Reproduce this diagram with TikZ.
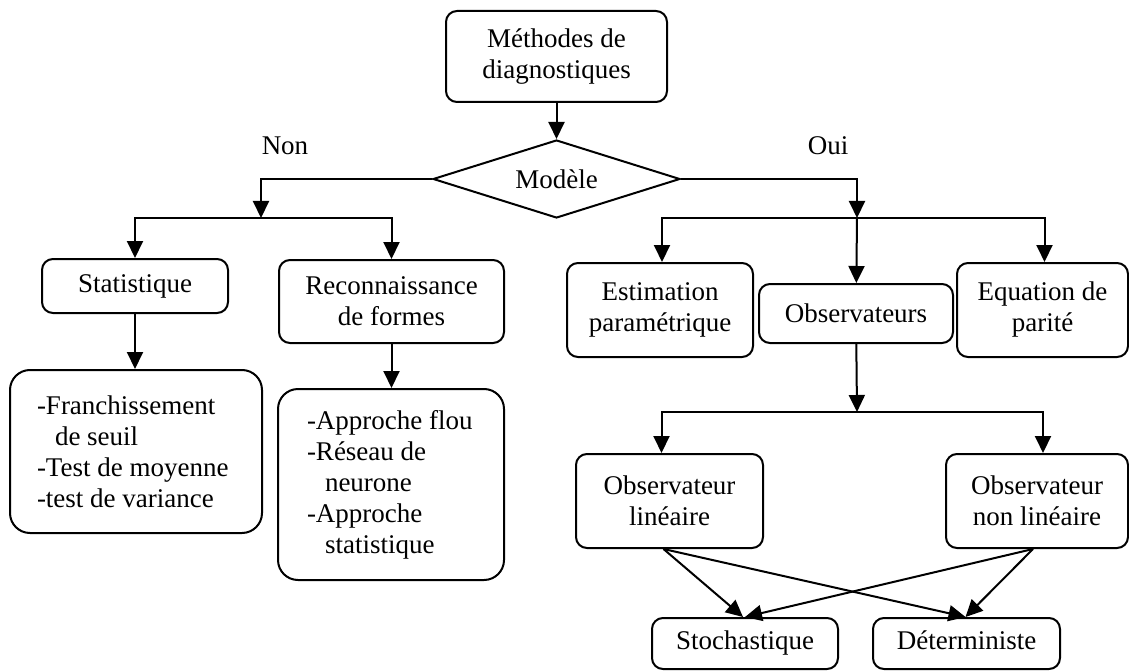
\documentclass[tikz,border=0pt]{standalone}
\usepackage{fontspec}
\setmainfont{Liberation Serif}
\usetikzlibrary{shapes.geometric,arrows.meta,calc}
\begin{document}
\begin{tikzpicture}[x=1pt,y=-1pt,
  every node/.style={font=\fontsize{27pt}{31pt}\selectfont, inner sep=2pt},
  box/.style={draw, line width=2pt, rounded corners=11pt, align=center},
  bigbox/.style={draw, line width=2pt, rounded corners=20pt, align=flush left, inner ysep=0pt},
  arr/.style={line width=2pt, -{Triangle[width=16pt,length=17pt]}},
  lbl/.style={}]
\path[use as bounding box] (0,0) rectangle (1129,671);

\node[box, minimum width=221pt, minimum height=91pt] (top) at (556.5,56.5) {Méthodes de\\diagnostiques};
\node[draw, line width=2pt, shape=diamond, aspect=3.17, minimum width=247pt, minimum height=78pt, inner sep=1pt] (dia) at (556.5,179) {Modèle};

\node[lbl] (non) at (285,146) {Non};
\node[lbl] (oui) at (828,146) {Oui};

\node[box, minimum width=186pt, minimum height=54pt] (stat) at (135,286) {Statistique};
\node[box, minimum width=225pt, minimum height=83pt] (rec) at (391.5,301.5) {Reconnaissance\\de formes};
\node[bigbox, minimum width=252pt, minimum height=163pt, inner xsep=27pt, text width=198pt] (b1) at (136,451.5) {-Franchissement\\\hspace*{18pt}de seuil\\-Test de moyenne\\-test de variance};
\node[bigbox, minimum width=226pt, minimum height=191pt, inner xsep=29pt, text width=168pt] (b2) at (391,484.5) {-Approche flou\\-Réseau de\\\hspace*{18pt}neurone\\-Approche\\\hspace*{18pt}statistique};

\node[box, minimum width=186pt, minimum height=94pt] (est) at (660,310) {Estimation\\paramétrique};
\node[box, minimum width=194pt, minimum height=59pt] (obs) at (856,313.5) {Observateurs};
\node[box, minimum width=171pt, minimum height=94pt] (eq) at (1042.5,310) {Equation de\\parité};

\node[box, minimum width=187pt, minimum height=94pt] (olin) at (669.5,501) {Observateur\\linéaire};
\node[box, minimum width=182pt, minimum height=94pt] (onl) at (1037,501) {Observateur\\non linéaire};

\node[box, minimum width=186pt, minimum height=51pt, text depth=6pt] (sto) at (745,643.5) {Stochastique};
\node[box, minimum width=187pt, minimum height=51pt, text depth=6pt] (det) at (966.5,643.5) {Déterministe};

\coordinate (jl) at (261,218);
\coordinate (jr) at (857,218);
\coordinate (jo) at (857,412);

\draw[arr] (top) -- (dia);
\draw[arr] (dia.west) -| (jl);
\draw[arr] (jl) -| (stat);
\draw[arr] (jl) -| (rec);
\draw[arr] (stat) -- (stat |- b1.north);
\draw[arr] (rec) -- (rec |- b2.north);

\draw[arr] (dia.east) -| (jr);
\draw[arr] (jr) -| ([xshift=2pt]est.north);
\draw[arr] (jr) -- (obs);
\draw[arr] (jr) -| ([xshift=2pt]eq.north);

\draw[arr] (obs) -- (jo);
\draw[arr] (jo) -| ([xshift=-8pt]olin.north);
\draw[arr] (jo) -| ([xshift=6pt]onl.north);

\draw[arr] ([xshift=-6pt]olin.south) -- ([xshift=-2pt]sto.north);
\draw[arr] ([xshift=-6pt]olin.south) -- ([xshift=-1pt]det.north);
\draw[arr] ([xshift=-4pt]onl.south) -- (sto.north);
\draw[arr] ([xshift=-4pt]onl.south) -- ([xshift=-1pt]det.north);
\end{tikzpicture}
\end{document}
